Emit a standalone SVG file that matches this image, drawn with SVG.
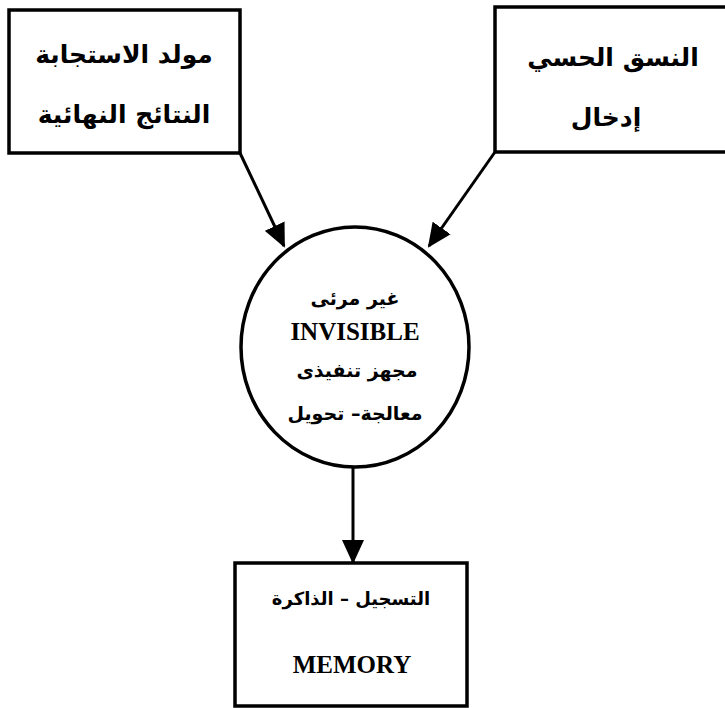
<svg xmlns="http://www.w3.org/2000/svg" width="725" height="708" viewBox="0 0 725 708">
<style>
.box{fill:#fff;stroke:#000;stroke-width:3.5}
.ar{font-family:"DejaVu Sans",sans-serif;font-weight:bold;fill:#000;text-anchor:middle}
.en{font-family:"Liberation Serif",serif;font-weight:bold;fill:#000;text-anchor:middle}
.edge{stroke:#000;stroke-width:3;fill:none}
</style>
<defs>
<marker id="ah" viewBox="0 0 24 22" refX="22" refY="11" markerWidth="24" markerHeight="22" markerUnits="userSpaceOnUse" orient="auto">
<path d="M0,0 L24,11 L0,22 z" fill="#000"/>
</marker>
</defs>
<rect width="725" height="708" fill="#fff"/>
<g id="connectors">
<line class="edge" x1="240" y1="153" x2="284" y2="246" marker-end="url(#ah)"/>
<line class="edge" x1="495" y1="152" x2="429" y2="246" marker-end="url(#ah)"/>
<line class="edge" x1="353" y1="468" x2="353" y2="562" marker-end="url(#ah)"/>
</g>
<g id="node-response">
<rect class="box" x="9" y="10" width="231" height="143"/>
<text class="ar" x="124" y="63" font-size="25">مولد الاستجابة</text>
<text class="ar" x="124" y="123" font-size="25">النتائج النهائية</text>
</g>
<g id="node-sensory">
<rect class="box" x="495" y="7" width="240" height="145"/>
<text class="ar" x="613" y="66" font-size="25">النسق الحسي</text>
<text class="ar" x="606" y="126" font-size="25">إدخال</text>
</g>
<g id="node-invisible">
<ellipse class="box" cx="355" cy="347" rx="114" ry="120"/>
<text class="ar" x="355" y="305" font-size="19">غير مرئى</text>
<text class="en" x="355" y="340" font-size="25">INVISIBLE</text>
<text class="ar" x="357" y="377" font-size="19">مجهز تنفيذى</text>
<text class="ar" x="355" y="420" font-size="19">معالجة– تحويل</text>
</g>
<g id="node-memory">
<rect class="box" x="235" y="563" width="232" height="143"/>
<text class="ar" x="351" y="605" font-size="18">التسجيل – الذاكرة</text>
<text class="en" x="352" y="673" font-size="25">MEMORY</text>
</g>
</svg>
